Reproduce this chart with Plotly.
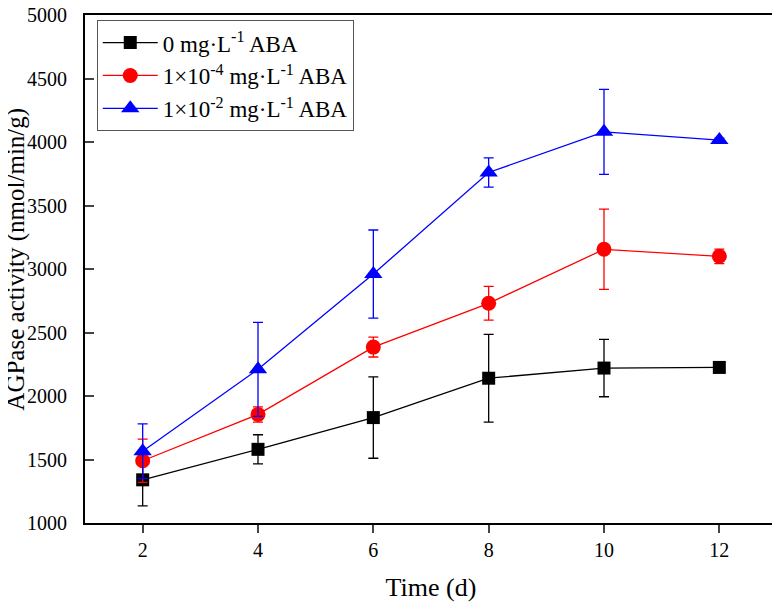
import plotly.graph_objects as go

time_d = [2, 4, 6, 8, 10, 12]

aba_0 = [1340, 1580, 1830, 2140, 2220, 2225]
aba_0_err = [205, 115, 320, 345, 226, 12]

aba_1e4 = [1490, 1855, 2385, 2730, 3155, 3100]
aba_1e4_err = [170, 60, 78, 133, 316, 57]

aba_1e2 = [1565, 2210, 2960, 3760, 4080, 4015]
aba_1e2_err = [215, 370, 347, 115, 335, 15]

y_ticks = [1000, 1500, 2000, 2500, 3000, 3500, 4000, 4500, 5000]

series = [
    ("0 mg·L<sup>-1</sup> ABA", aba_0, aba_0_err, "#000000", "square", 13),
    ("1×10<sup>-4</sup> mg·L<sup>-1</sup> ABA", aba_1e4, aba_1e4_err, "#FF0000", "circle", 15),
    ("1×10<sup>-2</sup> mg·L<sup>-1</sup> ABA", aba_1e2, aba_1e2_err, "#0000FF", "triangle-up", 16),
]

fig = go.Figure()
for name, vals, err, color, symbol, size in series:
    fig.add_trace(go.Scatter(
        x=time_d, y=vals, name=name, mode="lines+markers",
        line=dict(color=color, width=1.3),
        marker=dict(symbol=symbol, size=size, color=color),
        error_y=dict(type="data", array=err, visible=True,
                     color=color, thickness=1.3, width=5),
    ))

# page body adds 8px, so the figure is a bit smaller and shifted
font = "Liberation Serif, Times New Roman, serif"
fig.update_layout(
    width=772, height=601,
    margin=dict(l=77, r=3, t=7, b=86),
    plot_bgcolor="white", paper_bgcolor="white",
    font=dict(family=font, size=20, color="black"),
    showlegend=True,
    legend=dict(x=0.017, y=0.99, xanchor="left", yanchor="top",
                bordercolor="#555555", borderwidth=1, bgcolor="white",
                font=dict(size=23), tracegroupgap=0, itemwidth=55),
)
fig.add_annotation(
    text="AGPase activity (nmol/min/g)", textangle=-90,
    xref="paper", yref="paper", x=-0.1, y=0.52,
    xanchor="center", yanchor="middle", showarrow=False,
    font=dict(size=25),
)
fig.update_xaxes(
    range=[1, 13], tickvals=time_d, showline=True, linecolor="black",
    linewidth=2, mirror=True, ticks="outside", ticklen=8, tickwidth=2,
    showgrid=False, zeroline=False, automargin=False,
    title=dict(text="Time (d)", font=dict(size=26), standoff=18),
)
fig.update_yaxes(
    range=[1000, 5000], tickvals=y_ticks, showline=True, linecolor="black",
    linewidth=2, mirror=True, ticks="inside", ticklen=9, tickwidth=2,
    showgrid=False, zeroline=False, automargin=False, ticklabelstandoff=12,
    ticklabeloverflow="allow",
)

fig.write_html("out.html")
